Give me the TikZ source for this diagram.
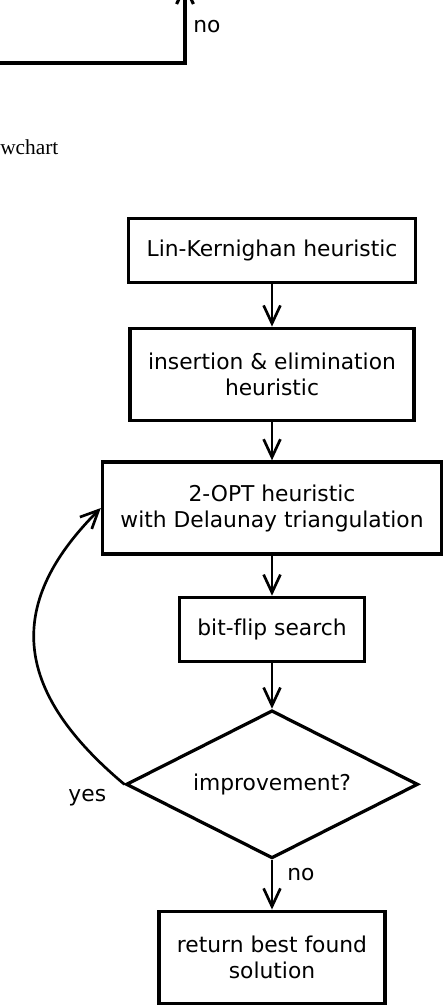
\documentclass[tikz,border=0pt]{standalone}
\usepackage{fontspec}
\setmainfont{DejaVu Sans}[Ligatures=NoCommon]
\newfontfamily\captionserif{Liberation Serif}
\usetikzlibrary{positioning,shapes.geometric,arrows.meta}

\begin{document}
\begin{tikzpicture}[
        font=\fontsize{15.5}{18.5}\selectfont,
        box/.style={draw, line width=2.4pt, align=center, inner xsep=0.45cm, minimum height=1.6cm},
        tallbox/.style={box, minimum height=2.3cm},
        decision/.style={draw, diamond, aspect=2, line width=2.3pt, inner sep=0pt,
            minimum width=7.3cm, minimum height=3.7cm},
        flow/.style={line width=1.9pt, -{Straight Barb[length=0.45cm,width=0.42cm]}},
        lbl/.style={inner sep=0pt}
    ]
    \useasboundingbox (0,0) rectangle (11.15,-25.15);
    \clip (0,0) rectangle (11.15,-25.15);
    % what is left of the chart above
    \coordinate (prevstart) at (-0.1,-1.575);
    \coordinate (prevbend) at (4.625,-1.575);
    \coordinate (prevend) at (4.625,0.44);
    \draw[flow, line width=2.2pt] (prevstart) -- (prevbend) -- (prevend);
    \node[lbl, anchor=base west] (prevno) at (4.825,-0.825) {no};
    \node[lbl, anchor=base west, font=\captionserif\fontsize{15.2}{18}\selectfont] (caption) at (0,-3.875) {wchart};
    % the flowchart
    \node[box] (lk) at (6.8,-6.2625) {Lin-Kernighan heuristic};
    \node[tallbox, below=1.06cm of lk] (ins) {insertion \& elimination\\heuristic};
    \node[tallbox, below=0.96cm of ins] (twoopt) {2-OPT heuristic\\with Delaunay triangulation};
    \node[box, below=1.0cm of twoopt] (flip) {bit-flip search};
    \node[decision, below=1.14cm of flip] (dec) {improvement?};
    \node[tallbox, below=1.24cm of dec] (ret) {return best found\\solution};
    \draw[flow] (lk) -- (ins);
    \draw[flow] (ins) -- (twoopt);
    \draw[flow] (twoopt) -- (flip);
    \draw[flow] (flip) -- (dec);
    \draw[flow] (dec) -- node[lbl, pos=0.3, right=0.35cm] (no) {no} (ret);
    \draw[flow] (dec.west) to[out=140, in=225, looseness=1.3] (twoopt.west);
    \node[lbl, anchor=base east] (yes) at ([xshift=-0.45cm, yshift=-0.42cm]dec.west) {yes};
\end{tikzpicture}
\end{document}
